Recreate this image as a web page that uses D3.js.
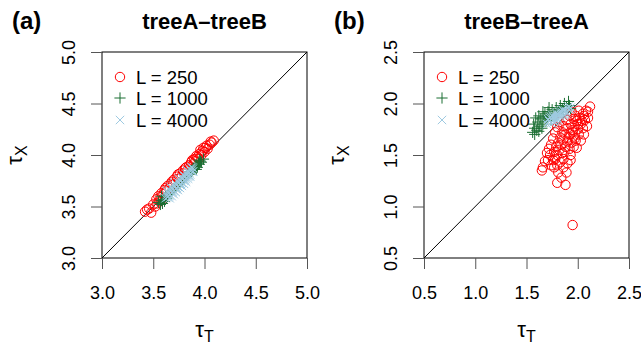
<!DOCTYPE html>
<html>
<head>
<meta charset="utf-8">
<script src="https://cdn.jsdelivr.net/npm/d3@7/dist/d3.min.js"></script>
<style>
  body { margin: 0; background: #fff; }
  svg { font-family: "Liberation Sans", Arial, sans-serif; display: block; }
</style>
</head>
<body>
<script>
// panel (a) treeA-treeB
const redA = [[3.42,3.45],[3.46,3.48],[3.50,3.52],[3.53,3.57],[3.55,3.60],[3.57,3.59],[3.58,3.63],[3.60,3.62],[3.61,3.66],[3.63,3.65],[3.64,3.70],[3.66,3.68],[3.67,3.72],[3.69,3.71],[3.70,3.76],[3.72,3.74],[3.73,3.79],[3.75,3.77],[3.76,3.82],[3.78,3.80],[3.79,3.85],[3.80,3.82],[3.82,3.88],[3.83,3.85],[3.85,3.90],[3.86,3.88],[3.87,3.93],[3.89,3.91],[3.90,3.96],[3.91,3.94],[3.93,3.98],[3.94,3.96],[3.95,4.01],[3.97,4.00],[3.98,4.04],[4.00,4.03],[4.01,4.07],[4.03,4.06],[4.05,4.10],[4.07,4.12],[4.09,4.14],[3.52,3.50],[3.48,3.44],[3.56,3.55],[3.92,3.99],[3.96,4.05],[4.02,4.09],[3.59,3.57],[3.62,3.68],[3.68,3.74],[3.74,3.81],[3.81,3.87],[3.88,3.95],[3.99,4.07],[4.06,4.13],[3.54,3.53],[3.44,3.47]];
const greenA = [[3.55,3.54],[3.57,3.52],[3.58,3.56],[3.60,3.57],[3.61,3.55],[3.62,3.60],[3.63,3.58],[3.65,3.62],[3.66,3.63],[3.68,3.65],[3.70,3.67],[3.72,3.69],[3.74,3.71],[3.76,3.73],[3.78,3.75],[3.80,3.77],[3.82,3.79],[3.84,3.81],[3.86,3.83],[3.88,3.85],[3.89,3.87],[3.90,3.86],[3.91,3.89],[3.92,3.90],[3.93,3.88],[3.94,3.92],[3.95,3.91],[3.96,3.94],[3.97,3.93],[3.99,3.96],[3.58,3.60],[3.64,3.61],[3.87,3.84],[3.59,3.53],[3.92,3.86],[3.95,3.95]];
const blueA = [[3.62,3.58],[3.63,3.61],[3.64,3.59],[3.65,3.63],[3.66,3.61],[3.67,3.65],[3.68,3.63],[3.69,3.67],[3.70,3.65],[3.71,3.69],[3.72,3.67],[3.73,3.71],[3.74,3.69],[3.75,3.73],[3.76,3.71],[3.77,3.75],[3.78,3.73],[3.79,3.77],[3.80,3.75],[3.81,3.79],[3.82,3.77],[3.83,3.81],[3.84,3.79],[3.85,3.83],[3.86,3.81],[3.87,3.85],[3.88,3.84],[3.89,3.87],[3.66,3.66],[3.70,3.70],[3.74,3.74],[3.78,3.78],[3.82,3.82],[3.86,3.86],[3.68,3.60],[3.72,3.64],[3.76,3.68],[3.80,3.72],[3.84,3.77],[3.64,3.64],[3.68,3.68],[3.72,3.72],[3.76,3.76],[3.80,3.80],[3.84,3.84],[3.88,3.88],[3.66,3.58],[3.70,3.62],[3.74,3.66],[3.78,3.70],[3.82,3.74],[3.86,3.79],[3.63,3.65],[3.67,3.69],[3.71,3.73],[3.75,3.77],[3.79,3.81],[3.83,3.85],[3.87,3.88],[3.65,3.60],[3.69,3.64],[3.73,3.68],[3.77,3.72],[3.81,3.76],[3.85,3.80],[3.89,3.84]];

// panel (b) treeB-treeA
const redB = [[2.12,1.97],[2.08,1.93],[2.05,1.90],[2.02,1.86],[2.07,1.84],[2.03,1.80],[1.99,1.83],[1.97,1.78],[2.00,1.75],[1.95,1.74],[1.93,1.80],[1.90,1.76],[1.92,1.70],[1.96,1.68],[2.01,1.70],[2.05,1.76],[1.88,1.70],[1.86,1.65],[1.90,1.63],[1.94,1.62],[1.98,1.64],[1.84,1.60],[1.88,1.58],[1.92,1.56],[1.96,1.58],[1.99,1.57],[1.82,1.55],[1.85,1.52],[1.80,1.50],[1.78,1.46],[1.76,1.45],[1.71,1.45],[1.74,1.40],[1.66,1.38],[1.65,1.35],[1.80,1.40],[1.83,1.43],[1.86,1.46],[1.90,1.42],[1.89,1.33],[1.81,1.33],[1.80,1.23],[1.88,1.21],[1.84,1.28],[1.95,0.82],[1.93,1.50],[1.87,1.53],[1.91,1.67],[1.95,1.72],[2.04,1.83],[1.83,1.67],[1.81,1.62],[1.79,1.58],[1.98,1.88],[2.01,1.93],[1.89,1.84],[1.86,1.78],[1.85,1.72],[1.77,1.53],[1.73,1.50],[2.00,1.80],[1.97,1.66],[2.06,1.88],[1.92,1.88],[1.94,1.92],[1.78,1.72],[1.80,1.77],[1.76,1.66],[1.74,1.60],[1.72,1.56],[2.09,1.78],[2.10,1.86],[2.06,1.70],[2.03,1.64],[1.70,1.52],[1.68,1.44],[1.77,1.38],[1.86,1.38],[1.93,1.45],[1.82,1.82],[1.96,1.85],[2.10,1.92]];
const greenB = [[1.56,1.72],[1.58,1.76],[1.60,1.74],[1.57,1.80],[1.61,1.82],[1.63,1.78],[1.59,1.86],[1.64,1.85],[1.66,1.80],[1.62,1.88],[1.67,1.87],[1.69,1.83],[1.65,1.76],[1.68,1.90],[1.71,1.92],[1.73,1.88],[1.70,1.86],[1.75,1.94],[1.77,1.90],[1.79,1.96],[1.81,1.93],[1.83,1.98],[1.85,1.95],[1.87,2.00],[1.89,1.97],[1.91,2.02],[1.92,1.98],[1.74,1.84],[1.62,1.73],[1.58,1.70],[1.72,1.96],[1.86,1.92],[1.80,1.90],[1.66,1.92],[1.93,1.95]];
const blueB = [[1.70,1.80],[1.72,1.83],[1.74,1.81],[1.73,1.86],[1.76,1.84],[1.78,1.88],[1.75,1.89],[1.77,1.82],[1.80,1.86],[1.79,1.91],[1.82,1.89],[1.81,1.84],[1.84,1.92],[1.83,1.87],[1.86,1.90],[1.85,1.94],[1.88,1.93],[1.87,1.88],[1.90,1.95],[1.89,1.91],[1.92,1.94],[1.91,1.97],[1.71,1.85],[1.78,1.85],[1.84,1.89],[1.93,1.96],[1.76,1.87],[1.82,1.92],[1.74,1.87],[1.80,1.89],[1.86,1.93],[1.79,1.83],[1.88,1.90]];

const ticksA = [3.0, 3.5, 4.0, 4.5, 5.0];
const ticksB = [0.5, 1.0, 1.5, 2.0, 2.5];
const legendLabels = ["L = 250", "L = 1000", "L = 4000"];
const colRed = "#ff0000", colGreen = "#1a6e32", colBlue = "#9ecae1";

const svg = d3.select("body").append("svg").attr("width", 641).attr("height", 349);

function circ(g, x, y) {
  g.append("circle").attr("cx", x).attr("cy", y).attr("r", 4.7)
    .attr("fill", "none").attr("stroke", colRed).attr("stroke-width", 1);
}
function plus(g, x, y) {
  const s = 5.6;
  g.append("path").attr("d", `M${x - s},${y}H${x + s}M${x},${y - s}V${y + s}`)
    .attr("stroke", colGreen).attr("stroke-width", 1);
}
function cross(g, x, y) {
  const s = 4.2;
  g.append("path").attr("d", `M${x - s},${y - s}L${x + s},${y + s}M${x - s},${y + s}L${x + s},${y - s}`)
    .attr("stroke", colBlue).attr("stroke-width", 1);
}

function panel(left, ticks, tag, title, red, green, blue) {
  const top = 52, bottom = 258, right = left + 205;
  const x = d3.scaleLinear().domain([ticks[0], ticks[4]]).range([left, right]);
  const y = d3.scaleLinear().domain([ticks[0], ticks[4]]).range([bottom, top]);
  const g = svg.append("g");

  // diagonal
  g.append("line").attr("x1", x(ticks[0])).attr("y1", y(ticks[0]))
    .attr("x2", x(ticks[4])).attr("y2", y(ticks[4]))
    .attr("stroke", "#000").attr("stroke-width", 1);

  const pts = g.append("g");
  red.forEach(d => circ(pts, x(d[0]), y(d[1])));
  green.forEach(d => plus(pts, x(d[0]), y(d[1])));
  blue.forEach(d => cross(pts, x(d[0]), y(d[1])));

  // box
  g.append("rect").attr("x", left).attr("y", top).attr("width", right - left).attr("height", bottom - top)
    .attr("fill", "none").attr("stroke", "#000").attr("stroke-width", 1);

  const fmt = d3.format(".1f");
  const xa = g.append("g").attr("transform", `translate(0,${bottom})`)
    .call(d3.axisBottom(x).tickValues(ticks).tickFormat(fmt).tickSize(11).tickPadding(17));
  const ya = g.append("g").attr("transform", `translate(${left},0)`)
    .call(d3.axisLeft(y).tickValues(ticks).tickFormat(fmt).tickSize(11));
  [xa, ya].forEach(a => {
    a.select(".domain").remove();
    a.selectAll("line").attr("stroke", "#555");
    a.selectAll("text").attr("font-size", 18).attr("fill", "#000")
      .attr("font-family", "Liberation Sans, Arial, sans-serif");
  });
  ya.selectAll("text").attr("x", null).attr("dy", null)
    .attr("text-anchor", "middle").attr("transform", "translate(-27,0) rotate(-90)");

  // titles
  g.append("text").attr("x", left - 90).attr("y", 29).attr("font-size", 24)
    .attr("font-weight", "bold").text(tag);
  g.append("text").attr("x", (left + right) / 2).attr("y", 29).attr("font-size", 22)
    .attr("font-weight", "bold").attr("text-anchor", "middle").text(title);

  const xt = g.append("text").attr("x", (left + right) / 2).attr("y", 337)
    .attr("text-anchor", "middle").attr("font-size", 22);
  xt.append("tspan").text("τ");
  xt.append("tspan").attr("font-size", 16).attr("dy", 5).text("T");

  const yt = g.append("text").attr("transform", `translate(${left - 80},${(top + bottom) / 2}) rotate(-90)`)
    .attr("text-anchor", "middle").attr("font-size", 22);
  yt.append("tspan").text("τ");
  yt.append("tspan").attr("font-size", 16).attr("dy", 5).text("X");

  // legend
  const lg = g.append("g");
  const rows = [77, 98, 120];
  circ(lg, left + 18, rows[0]);
  plus(lg, left + 18, rows[1]);
  cross(lg, left + 18, rows[2]);
  legendLabels.forEach((t, i) => {
    lg.append("text").attr("x", left + 34).attr("y", rows[i] + 6.5).attr("font-size", 18.5).text(t);
  });
}

panel(102, ticksA, "(a)", "treeA\u2013treeB", redA, greenA, blueA);
panel(424, ticksB, "(b)", "treeB\u2013treeA", redB, greenB, blueB);
</script>
</body>
</html>
